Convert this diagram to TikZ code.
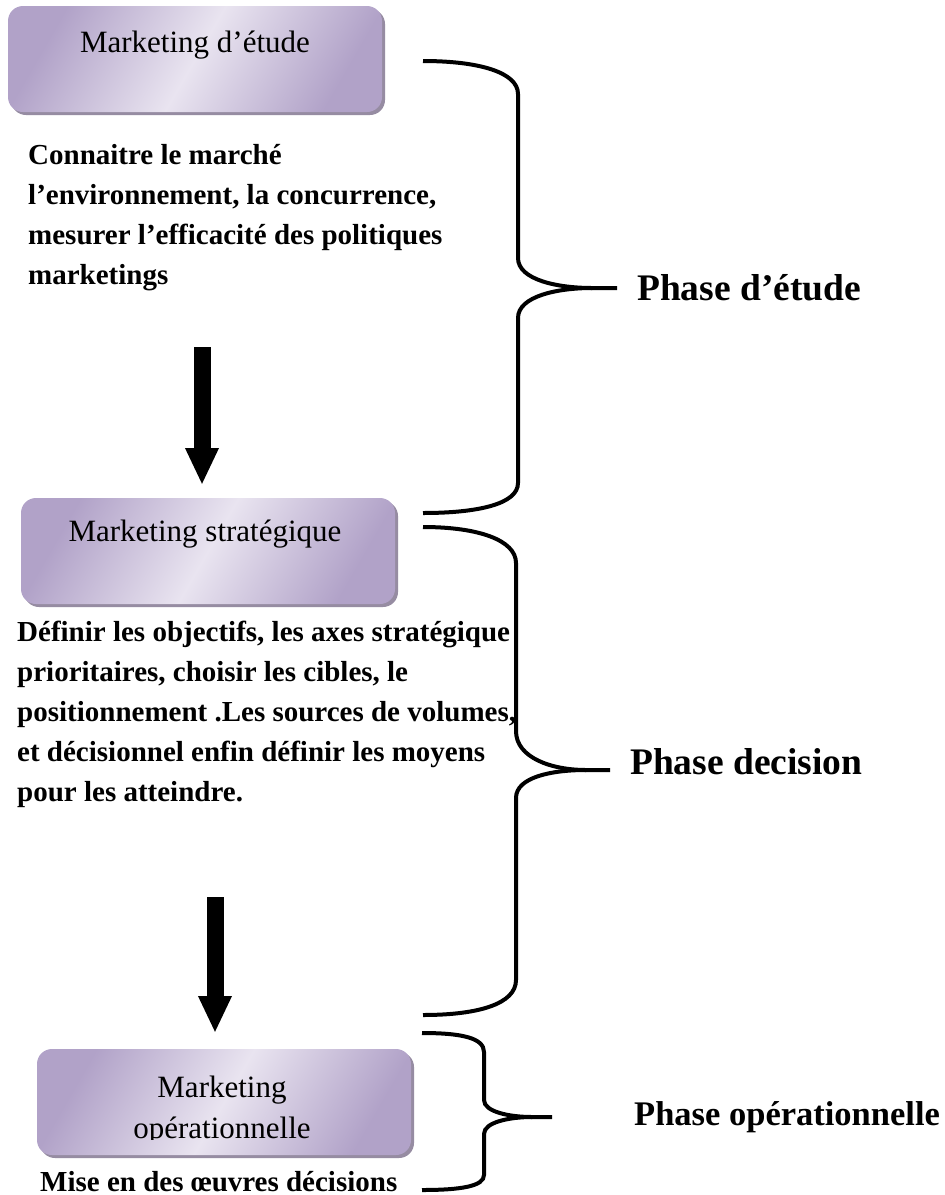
\documentclass[tikz,border=0pt]{standalone}
\usepackage{fontspec}
\setmainfont{Liberation Serif}
\usetikzlibrary{arrows.meta,shadows}
\definecolor{boxdark}{RGB}{177,162,200}
\definecolor{boxlight}{RGB}{233,228,240}
\definecolor{shadowc}{RGB}{150,140,162}
\begin{document}
\begin{tikzpicture}[x=1pt,y=-1pt,
  mbox/.style={rounded corners=15pt, minimum width=374pt, minimum height=106pt, inner sep=0pt,
    left color=boxdark, right color=boxdark, middle color=boxlight, shading angle=60,
    drop shadow={shadow xshift=3pt,shadow yshift=-3pt,fill=shadowc,opacity=1}},
  boxtext/.style={font=\fontsize{31}{42}\selectfont, inner sep=0pt, anchor=base},
  bodytext/.style={font=\fontsize{29}{40}\selectfont\bfseries, inner sep=0pt, align=left, anchor=north west},
  phasetext/.style={font=\fontsize{37.5}{40}\selectfont\bfseries, inner sep=0pt, anchor=west},
  brace/.style={line width=4pt},
  bigarrow/.style={line width=17pt, -{Triangle[width=31pt,length=37pt]}}]
\fill[white] (0,0) rectangle (945,1195);
\useasboundingbox (0,0) rectangle (945,1195);

% boxes
\node[mbox] (b1) at (195,59) {};
\node[mbox] (b2) at (208,551) {};
\node[mbox] (b3) at (224,1102) {};

\node[boxtext] (t1) at (195,52) {Marketing d’étude};
\node[boxtext] (t2) at (205,541) {Marketing stratégique};
\begin{scope}
  \clip (37,1050) rectangle (411,1139);
  \node[boxtext] (t3) at (222,1097) {Marketing};
  \node[boxtext] (t4) at (222,1138) {opérationnelle};
\end{scope}

% body texts
\node[bodytext] (d1) at (28,144) {Connaitre le marché\\l’environnement, la concurrence,\\mesurer l’efficacité des politiques\\marketings};
\node[bodytext] (d2) at (17,621) {Définir les objectifs, les axes stratégique\\prioritaires, choisir les cibles, le\\positionnement .Les sources de volumes,\\et décisionnel enfin définir les moyens\\pour les atteindre.};
\node[font=\fontsize{29}{40}\selectfont\bfseries, inner sep=0pt, anchor=base west] (d3) at (40,1191) {Mise en des œuvres décisions};

% arrows
\coordinate (a1s) at (202,347);
\coordinate (a1e) at (202,485);
\coordinate (a2s) at (215,897);
\coordinate (a2e) at (215,1033);
\draw[bigarrow] (a1s) -- (a1e);
\draw[bigarrow] (a2s) -- (a2e);

% brace 1
\coordinate (p1) at (617,288);
\draw[brace] (423,61) .. controls (478,61) and (518,72) .. (518,94) -- (518,258)
  .. controls (518,280) and (558,288) .. (592,288) -- (p1);
\draw[brace] (592,288) .. controls (558,288) and (518,296) .. (518,318) -- (518,483)
  .. controls (518,504) and (478,513) .. (423,513);
\node[phasetext] (ph1) at (637,288) {Phase d’étude};

% brace 2
\coordinate (p2) at (610,770);
\draw[brace] (423,527) .. controls (478,527) and (516,540) .. (516,563) -- (516,731)
  .. controls (516,758) and (552,770) .. (586,770) -- (p2);
\draw[brace] (586,770) .. controls (552,770) and (516,777) .. (516,798) -- (516,980)
  .. controls (516,1004) and (478,1015) .. (423,1015);
\node[phasetext] (ph2) at (630,762) {Phase decision};

% brace 3
\coordinate (p3) at (552,1117);
\draw[brace] (422,1033) .. controls (462,1033) and (484,1038) .. (484,1052) -- (484,1100)
  .. controls (484,1112) and (510,1117) .. (532,1117) -- (p3);
\draw[brace] (532,1117) .. controls (510,1117) and (484,1122) .. (484,1134) -- (484,1175)
  .. controls (484,1186) and (462,1190) .. (422,1190);
\node[phasetext, font=\fontsize{34.5}{40}\selectfont\bfseries] (ph3) at (634,1117) {Phase opérationnelle};
\end{tikzpicture}
\end{document}
